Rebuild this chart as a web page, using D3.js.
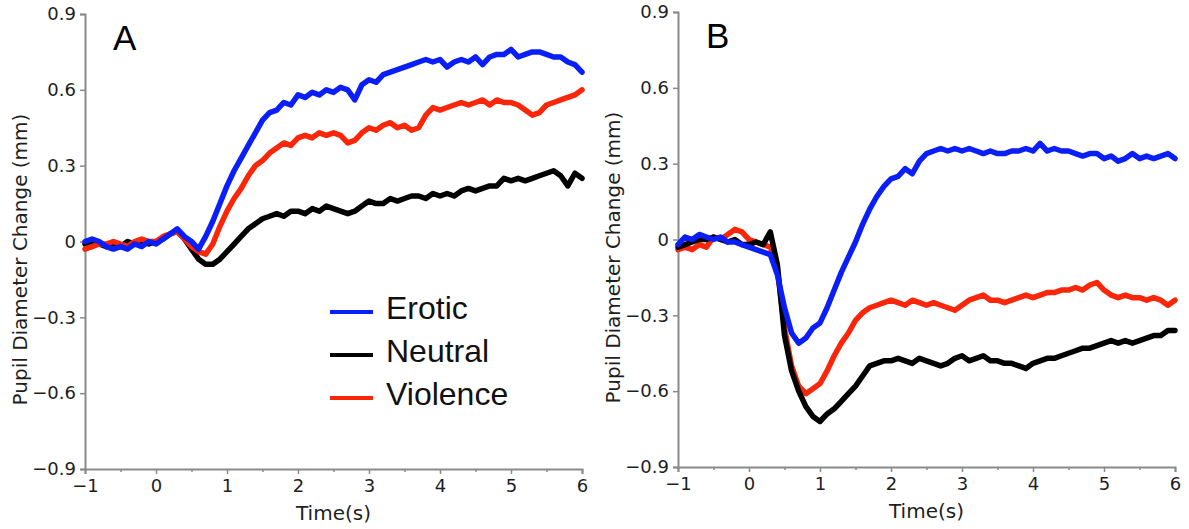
<!DOCTYPE html>
<html>
<head>
<meta charset="utf-8">
<script src="https://cdn.jsdelivr.net/npm/d3@7"></script>
<style>
  html, body { margin: 0; padding: 0; background: #fff; }
  svg { display: block; }
</style>
</head>
<body>
<svg id="chart" width="1189" height="529"></svg>
<script>
// ---------------- DATA ----------------
const timeStart = -1, timeStep = 0.1, nPoints = 71;   // samples at -1.0, -0.9, ... 6.0 s
const xTicks = [-1, 0, 1, 2, 3, 4, 5, 6];
const xMinorTicks = [-0.5, 0.5, 1.5, 2.5, 3.5, 4.5, 5.5];
const yTicks = [-0.9, -0.6, -0.3, 0, 0.3, 0.6, 0.9];
const categories = ["Erotic", "Neutral", "Violence"];
const panelLabels = ["A", "B"];

// Panel A
const aErotic = [0.00,0.01,0.00,-0.02,-0.03,-0.02,-0.03,-0.01,-0.02,0.00,
  -0.01,0.01,0.03,0.05,0.02,0.00,-0.03,0.02,0.08,0.15,
  0.22,0.28,0.33,0.38,0.43,0.48,0.51,0.52,0.55,0.54,
  0.58,0.57,0.59,0.58,0.60,0.59,0.61,0.60,0.56,0.62,
  0.64,0.63,0.66,0.67,0.68,0.69,0.70,0.71,0.72,0.71,
  0.72,0.69,0.71,0.72,0.71,0.73,0.70,0.73,0.74,0.74,
  0.76,0.73,0.74,0.75,0.75,0.74,0.73,0.73,0.71,0.70,0.67];
const aNeutral = [-0.01,0.00,-0.01,-0.02,-0.01,-0.02,0.00,-0.01,0.00,-0.01,
  0.00,0.01,0.03,0.04,0.01,-0.03,-0.07,-0.09,-0.09,-0.07,
  -0.04,-0.01,0.02,0.05,0.07,0.09,0.10,0.11,0.10,0.12,
  0.12,0.11,0.13,0.12,0.14,0.13,0.12,0.11,0.12,0.14,
  0.16,0.15,0.15,0.17,0.16,0.17,0.18,0.18,0.17,0.19,
  0.18,0.19,0.18,0.20,0.21,0.20,0.21,0.22,0.22,0.25,
  0.24,0.25,0.24,0.25,0.26,0.27,0.28,0.26,0.22,0.27,0.25];
const aViolence = [-0.03,-0.02,-0.01,-0.01,0.00,-0.01,-0.02,0.00,0.01,0.00,
  0.00,0.02,0.03,0.04,0.01,-0.02,-0.04,-0.05,-0.01,0.06,
  0.12,0.17,0.21,0.26,0.30,0.32,0.35,0.37,0.39,0.38,
  0.41,0.42,0.41,0.43,0.42,0.43,0.42,0.39,0.40,0.43,
  0.45,0.44,0.46,0.47,0.45,0.46,0.44,0.45,0.50,0.53,
  0.52,0.53,0.54,0.55,0.54,0.55,0.56,0.54,0.56,0.55,
  0.55,0.54,0.52,0.50,0.51,0.54,0.55,0.56,0.57,0.58,0.60];

// Panel B
const bErotic = [-0.02,0.01,0.00,0.02,0.01,0.00,0.01,-0.01,-0.01,-0.02,
  -0.03,-0.04,-0.05,-0.06,-0.14,-0.27,-0.37,-0.41,-0.39,-0.35,
  -0.33,-0.27,-0.20,-0.13,-0.07,-0.01,0.06,0.12,0.17,0.21,
  0.24,0.25,0.28,0.26,0.31,0.34,0.35,0.36,0.35,0.36,
  0.35,0.36,0.35,0.34,0.35,0.34,0.34,0.35,0.35,0.36,
  0.35,0.38,0.35,0.36,0.35,0.35,0.34,0.33,0.34,0.34,
  0.32,0.33,0.31,0.32,0.34,0.32,0.33,0.32,0.33,0.34,0.32];
const bNeutral = [-0.03,-0.02,-0.01,0.00,0.00,0.01,0.00,-0.01,0.00,-0.02,
  -0.02,-0.01,-0.02,0.03,-0.10,-0.38,-0.52,-0.60,-0.66,-0.70,
  -0.72,-0.69,-0.67,-0.64,-0.61,-0.58,-0.54,-0.50,-0.49,-0.48,
  -0.48,-0.47,-0.48,-0.49,-0.47,-0.48,-0.49,-0.50,-0.49,-0.47,
  -0.46,-0.48,-0.47,-0.46,-0.48,-0.48,-0.49,-0.49,-0.50,-0.51,
  -0.49,-0.48,-0.47,-0.47,-0.46,-0.45,-0.44,-0.43,-0.43,-0.42,
  -0.41,-0.40,-0.41,-0.40,-0.41,-0.40,-0.39,-0.38,-0.38,-0.36,-0.36];
const bViolence = [-0.04,-0.03,-0.04,-0.02,-0.03,0.01,0.00,0.02,0.04,0.03,
  0.00,-0.01,-0.02,-0.03,-0.12,-0.35,-0.50,-0.58,-0.61,-0.59,
  -0.57,-0.52,-0.46,-0.41,-0.37,-0.32,-0.29,-0.27,-0.26,-0.25,
  -0.24,-0.25,-0.26,-0.24,-0.25,-0.26,-0.25,-0.26,-0.27,-0.28,
  -0.26,-0.24,-0.23,-0.22,-0.24,-0.24,-0.25,-0.24,-0.23,-0.22,
  -0.23,-0.22,-0.21,-0.21,-0.20,-0.20,-0.19,-0.20,-0.18,-0.17,
  -0.20,-0.22,-0.23,-0.22,-0.23,-0.23,-0.24,-0.23,-0.24,-0.26,-0.24];

// ---------------- DRAW ----------------
const times = d3.range(nPoints).map(i => +(timeStart + i * timeStep).toFixed(2));
const colors = { Erotic: "#0a1ef8", Neutral: "#000000", Violence: "#fa260a" };

const panels = [
  { label: panelLabels[0], x0: 85, x1: 582, yTop: 14, yBot: 469, titleX: 20,
    series: { Erotic: aErotic, Neutral: aNeutral, Violence: aViolence },
    order: ["Neutral", "Violence", "Erotic"], legend: true },
  { label: panelLabels[1], x0: 678, x1: 1175, yTop: 12, yBot: 467, titleX: 613,
    series: { Erotic: bErotic, Neutral: bNeutral, Violence: bViolence },
    order: ["Violence", "Neutral", "Erotic"], legend: false }
];

const svg = d3.select("#chart");
const tickFont = "'DejaVu Sans', sans-serif";
const axisColor = "#8a8a8a";
const textColor = "#1e1e1e";
const fmt = v => v === 0 ? "0" : d3.format(".1f")(v);

panels.forEach(p => {
  const x = d3.scaleLinear().domain([-1, 6]).range([p.x0, p.x1]);
  const y = d3.scaleLinear().domain([-0.9, 0.9]).range([p.yBot, p.yTop]);
  const g = svg.append("g");

  // Y axis
  g.append("g").attr("transform", `translate(${p.x0},0)`)
    .call(d3.axisLeft(y).tickValues(yTicks).tickFormat(fmt).tickSize(5).tickPadding(4));
  // X axis major
  g.append("g").attr("transform", `translate(0,${p.yBot})`)
    .call(d3.axisBottom(x).tickValues(xTicks).tickFormat(d3.format("d")).tickSize(5).tickPadding(5));
  // X axis minor
  g.append("g").attr("transform", `translate(0,${p.yBot})`)
    .call(d3.axisBottom(x).tickValues(xMinorTicks).tickFormat("").tickSize(3))
    .call(s => s.select(".domain").remove());

  g.selectAll(".domain").attr("stroke", axisColor).attr("stroke-width", 2);
  g.selectAll(".tick line").attr("stroke", axisColor).attr("stroke-width", 1.5);
  g.selectAll(".tick text").attr("fill", textColor)
    .style("font-family", tickFont).style("font-size", "18px");

  // Axis titles
  g.append("text")
    .attr("x", (p.x0 + p.x1) / 2).attr("y", p.yBot + 51)
    .attr("text-anchor", "middle")
    .style("font-family", tickFont).style("font-size", "20px").attr("fill", textColor)
    .text("Time(s)");
  g.append("text")
    .attr("transform", `translate(${p.titleX + 7},${(p.yTop + p.yBot) / 2 + 18}) rotate(-90)`)
    .attr("text-anchor", "middle")
    .style("font-family", tickFont).style("font-size", "20px").attr("fill", textColor)
    .text("Pupil Diameter Change (mm)");

  // Panel letter
  g.append("text")
    .attr("x", p.x0 + 28).attr("y", p.yTop + 36)
    .style("font-family", "'Liberation Sans', Arial, sans-serif").style("font-size", "35px")
    .attr("fill", "#000").text(p.label);

  // Lines
  const line = d3.line().x((d, i) => x(times[i])).y(d => y(d));
  p.order.forEach(cat => {
    g.append("path")
      .datum(p.series[cat])
      .attr("d", line)
      .attr("fill", "none")
      .attr("stroke", colors[cat])
      .attr("stroke-width", 5.5)
      .attr("stroke-linejoin", "round")
      .attr("stroke-linecap", "round");
  });

  // Legend
  if (p.legend) {
    const lg = g.append("g");
    categories.forEach((cat, i) => {
      const ly = 312 + i * 43;
      lg.append("line")
        .attr("x1", 330).attr("x2", 373).attr("y1", ly).attr("y2", ly)
        .attr("stroke", colors[cat]).attr("stroke-width", 4);
      lg.append("text")
        .attr("x", 386).attr("y", ly + 7)
        .style("font-family", "'Liberation Sans', Arial, sans-serif").style("font-size", "32px")
        .attr("fill", "#111").text(cat);
    });
  }
});
</script>
</body>
</html>
